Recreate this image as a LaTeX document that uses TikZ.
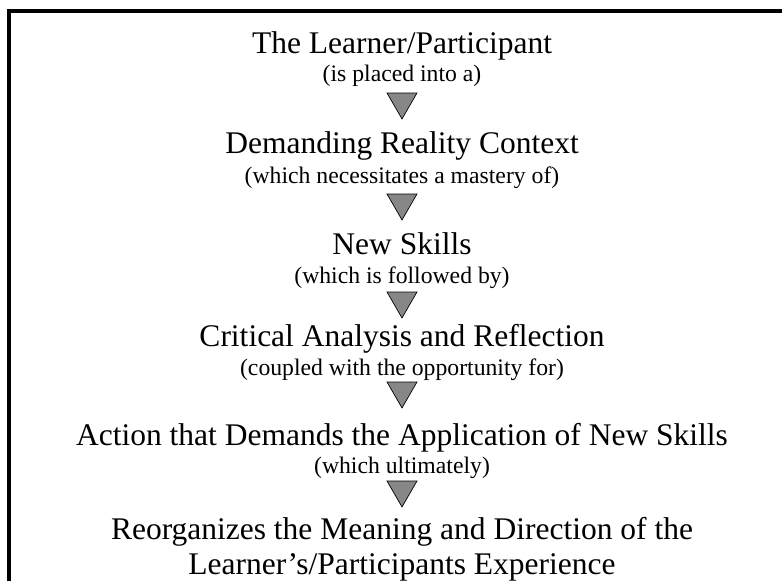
\documentclass[tikz,border=0pt]{standalone}
\usepackage{fontspec}
\setmainfont{Liberation Serif}
\usetikzlibrary{shapes.geometric}
\definecolor{wedgegray}{RGB}{135,135,135}
\tikzset{
  stage/.style={anchor=base, inner sep=0pt, align=center, font=\fontsize{31.5}{37}\selectfont},
  remark/.style={anchor=base, inner sep=0pt, font=\fontsize{23.7}{28}\selectfont},
  wedge/.style={regular polygon, regular polygon sides=3, shape border rotate=180,
    minimum size=34.6pt, inner sep=0pt, outer sep=0pt, anchor=north,
    draw=black, line width=0.7pt, fill=wedgegray},
  frame/.style={line width=3.5pt}
}
\begin{document}
\begin{tikzpicture}[x=1pt,y=-1pt]
    \useasboundingbox (0,0) rectangle (782,581);
    \draw[frame] (9,583) -- (9,11) -- (784,11);
    % stages and the remarks between them
    \node[stage]  (learner) at (402,53)  {The Learner/Participant};
    \node[remark] (r1)      at (402,81)  {(is placed into a)};
    \node[wedge]  (w1)      at (402,93)  {};
    \node[stage]  (context) at (402,153) {Demanding Reality Context};
    \node[remark] (r2)      at (402,183) {(which necessitates a mastery of)};
    \node[wedge]  (w2)      at (402,194) {};
    \node[stage]  (skills)  at (402,254) {New Skills};
    \node[remark] (r3)      at (402,283) {(which is followed by)};
    \node[wedge]  (w3)      at (402,292) {};
    \node[stage]  (reflect) at (402,346) {Critical Analysis and Reflection};
    \node[remark] (r4)      at (402,375) {(coupled with the opportunity for)};
    \node[wedge]  (w4)      at (402,382) {};
    \node[stage]  (action)  at (402,445) {Action that Demands the Application of New Skills};
    \node[remark] (r5)      at (402,473) {(which ultimately)};
    \node[wedge]  (w5)      at (402,481) {};
    \node[stage]  (meaning) at (402,539) {Reorganizes the Meaning and Direction of the};
    \node[stage]  (exper)   at (402,574) {Learner’s/Participants Experience};
\end{tikzpicture}
\end{document}
